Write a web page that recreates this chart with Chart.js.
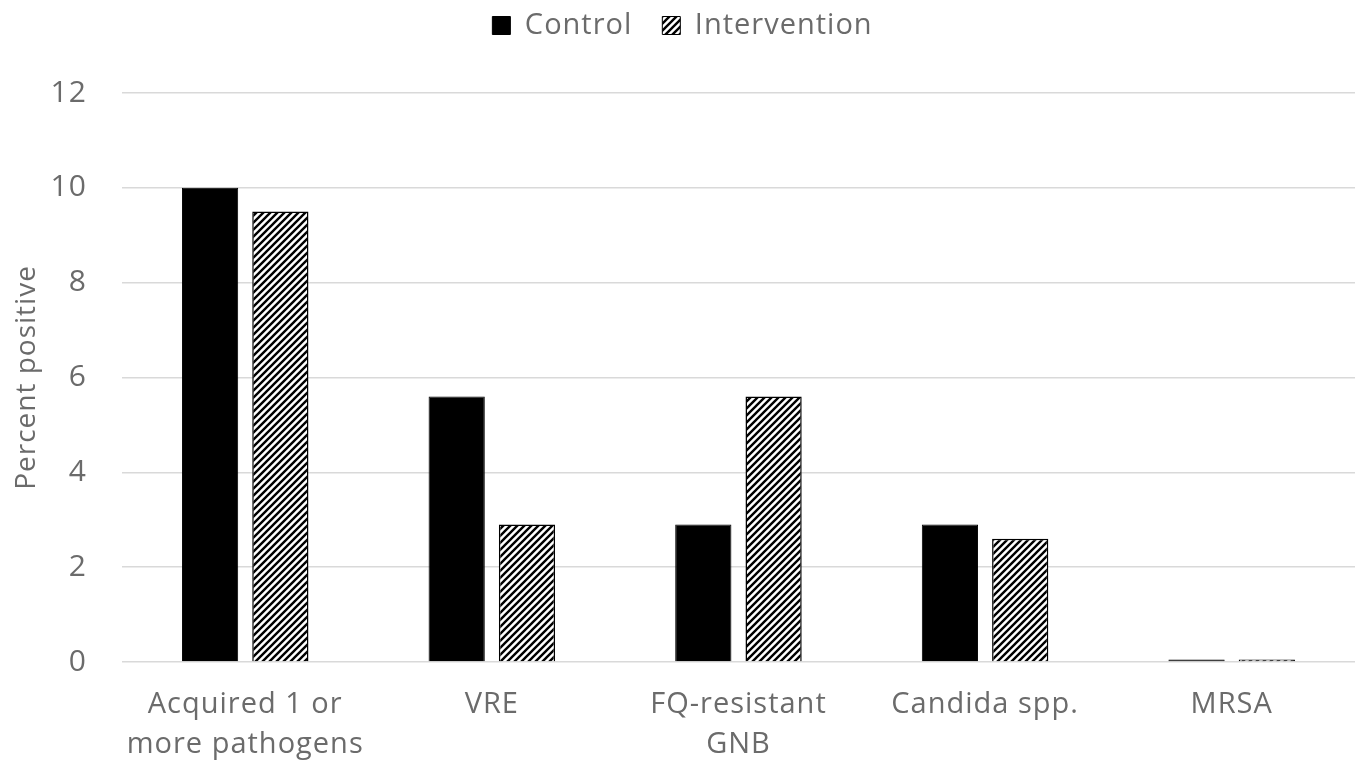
<!DOCTYPE html>
<html>
<head>
<meta charset="utf-8">
<script src="https://cdn.jsdelivr.net/npm/chart.js@4"></script>
<style>
  html, body { margin: 0; padding: 0; background: #fff; }
  #wrap { width: 1360px; height: 770px; }
</style>
</head>
<body>
<div id="wrap"><canvas id="myChart" width="1360" height="770"></canvas></div>
<script>
// Datos del gráfico
const categories = [
    ['Acquired 1 or', 'more pathogens'],
    'VRE',
    ['FQ-resistant', 'GNB'],
    'Candida spp.',
    'MRSA'
];
const controlValues = [10, 5.6, 2.9, 2.9, 0.05];
const interventionValues = [9.5, 2.9, 5.6, 2.6, 0.05];
const seriesNames = ['Control', 'Intervention'];
const yTicks = [0, 2, 4, 6, 8, 10, 12];

const textColor = '#6b6b6b';
const fontFamily = '"Open Sans", "Noto Sans", sans-serif';

// Patrón de rayas diagonales para Intervention
function makeHatch() {
    const size = 7;
    const c = document.createElement('canvas');
    c.width = size;
    c.height = size;
    const g = c.getContext('2d');
    g.fillStyle = '#fff';
    g.fillRect(0, 0, size, size);
    g.strokeStyle = '#000';
    g.lineWidth = 2.4;
    g.beginPath();
    g.moveTo(-1, size + 1); g.lineTo(size + 1, -1);
    g.moveTo(-1, 1); g.lineTo(1, -1);
    g.moveTo(size - 1, size + 1); g.lineTo(size + 1, size - 1);
    g.stroke();
    return document.getElementById('myChart').getContext('2d').createPattern(c, 'repeat');
}

const hatch = makeHatch();

// Espacio extra debajo de la leyenda y un poco de espaciado entre letras
const layoutTweaks = {
    id: 'layoutTweaks',
    beforeInit(chart) {
        const fit = chart.legend.fit;
        chart.legend.fit = function () {
            fit.call(this);
            this.height += 43;
        };
    },
    beforeUpdate(chart) {
        chart.ctx.letterSpacing = '1px';
    },
    beforeDraw(chart) {
        chart.ctx.letterSpacing = '1px';
    }
};

const ctx = document.getElementById('myChart').getContext('2d');
new Chart(ctx, {
    type: 'bar',
    data: {
        labels: categories,
        datasets: [{
            label: seriesNames[0],
            data: controlValues,
            backgroundColor: '#000',
            borderColor: '#000',
            borderWidth: 1
        }, {
            label: seriesNames[1],
            data: interventionValues,
            backgroundColor: hatch,
            borderColor: '#000',
            borderWidth: 1.5
        }]
    },
    options: {
        responsive: false,
        animation: false,
        layout: { padding: { left: 10, right: 5, top: -19, bottom: -18 } },
        datasets: {
            bar: { categoryPercentage: 0.57, barPercentage: 0.8 }
        },
        plugins: {
            tooltip: { enabled: false },
            legend: {
                position: 'top',
                labels: {
                    color: textColor,
                    font: { family: fontFamily, size: 29 },
                    boxWidth: 18,
                    boxHeight: 18,
                    padding: 30,
                    generateLabels: (chart) => chart.data.datasets.map((ds, i) => ({
                        text: ds.label,
                        fillStyle: ds.backgroundColor,
                        strokeStyle: '#000',
                        lineWidth: 1,
                        fontColor: textColor,
                        datasetIndex: i
                    }))
                }
            }
        },
        scales: {
            x: {
                grid: { display: false, drawTicks: false },
                border: { display: false },
                ticks: {
                    color: textColor,
                    font: { family: fontFamily, size: 29, lineHeight: 1.38 },
                    padding: 23,
                    maxRotation: 0
                }
            },
            y: {
                min: 0,
                max: 12,
                afterBuildTicks: (axis) => {
                    axis.ticks = yTicks.map(v => ({ value: v }));
                },
                grid: {
                    color: '#d9d9d9',
                    lineWidth: 1.5,
                    drawTicks: true,
                    tickLength: 33,
                    tickColor: 'rgba(0,0,0,0)'
                },
                border: { display: false },
                ticks: {
                    color: textColor,
                    font: { family: fontFamily, size: 30 },
                    padding: 2
                },
                title: {
                    display: true,
                    text: 'Percent positive',
                    color: textColor,
                    font: { family: fontFamily, size: 28 },
                    padding: { top: 0, bottom: 5 }
                }
            }
        }
    },
    plugins: [layoutTweaks]
});
</script>
</body>
</html>
